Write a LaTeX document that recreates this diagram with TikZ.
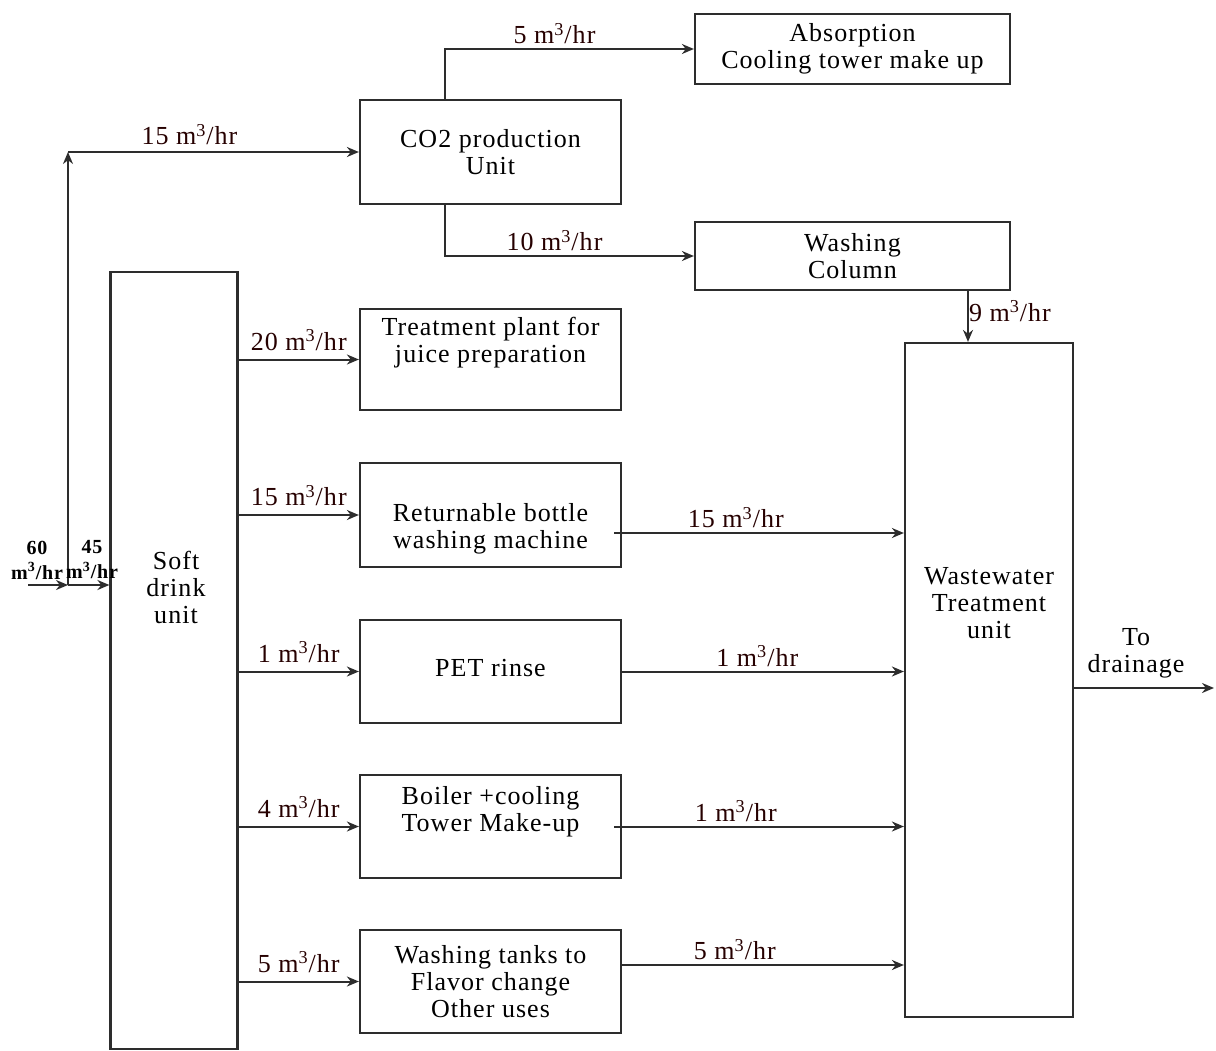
\documentclass[tikz,border=0pt]{standalone}
\usepackage{fontspec}
\setmainfont[LetterSpace=4]{Liberation Serif}
\usetikzlibrary{arrows.meta}
\definecolor{flowgray}{RGB}{45,45,45}
\newcommand{\mrate}[1]{#1 m\textsuperscript{3}/hr}
\tikzset{
  flow box/.style={draw=flowgray,line width=1.1pt,inner sep=0pt,align=center},
  flow/.style={-{Stealth[length=6pt,width=5pt]},line width=1pt,draw=flowgray},
  flow note/.style={font=\fontsize{13}{14}\selectfont,text=black!85!red,inner sep=2pt},
  small note/.style={font=\fontsize{10}{12.5}\selectfont\bfseries,align=center,inner sep=1pt}
}

\begin{document}
\begin{tikzpicture}[x=0.5pt,y=-0.5pt,font=\fontsize{13}{13.5}\selectfont]
  \useasboundingbox (0,0) rectangle (1216,1050);

  % boxes
  \node[flow box,minimum width=63.5pt,minimum height=388.5pt] (soft) at (174,660.5) {};
  \node[align=center] (softtext) at (176,587) {Soft\\drink\\unit};
  \node[flow box,minimum width=130.5pt,minimum height=52pt] (co2) at (490.5,152) {CO2 production\\Unit};
  \node[flow box,minimum width=157.5pt,minimum height=35pt] (absorb) at (852.5,49) {Absorption\\Cooling tower make up};
  \node[flow box,minimum width=157.5pt,minimum height=34pt] (washcol) at (852.5,256) {Washing\\Column};
  \node[flow box,minimum width=84pt,minimum height=337pt] (wwt) at (989,680) {};
  \node[align=center] (wwttext) at (989,603) {Wastewater\\Treatment\\unit};
  \node[flow box,minimum width=130.5pt,minimum height=50.5pt] (treat) at (490.5,359.5) {Treatment plant for\\juice preparation\\[6pt]};
  \node[flow box,minimum width=130.5pt,minimum height=52pt] (bottle) at (490.5,515) {\\[9pt]Returnable bottle\\washing machine};
  \node[flow box,minimum width=130.5pt,minimum height=51.5pt] (pet) at (490.5,671.5) {PET rinse\\[-10pt]};
  \node[flow box,minimum width=130.5pt,minimum height=51.5pt] (boiler) at (490.5,826.5) {Boiler +cooling\\Tower Make-up\\[4pt]};
  \node[flow box,minimum width=130.5pt,minimum height=51.5pt] (tanks) at (490.5,981.5) {Washing tanks to\\Flavor change\\Other uses};

  % feed water
  \coordinate (feed) at (28,585);
  \coordinate (split) at (68,585);
  \coordinate (riser) at (68,152);
  \coordinate (drain) at (1214,688);
  \draw[flow] (feed) -- (split);
  \draw[flow] (split) -- (soft.west |- split);
  \draw[flow] (split) -- (riser);
  \draw[flow] (riser) -- (co2.west) node[flow note,midway,above=1pt,xshift=-12pt] {\mrate{15}};
  \node[small note] (in60) at (37,560) {60\\m\textsuperscript{3}/hr};
  \node[small note] (in45) at (92,560) {45\\m\textsuperscript{3}/hr};

  % CO2 unit
  \draw[flow] ([xshift=-22.75pt]co2.north) |- (absorb.west)
    node[flow note,pos=0.72,above] {\mrate{5}};
  \draw[flow] ([xshift=-22.75pt]co2.south) |- (washcol.west)
    node[flow note,pos=0.72,above] {\mrate{10}};
  \draw[flow] ([xshift=57.75pt]washcol.south) coordinate (w9) -- (w9 |- wwt.north)
    node[flow note,pos=0.4,right=1pt,xshift=-3pt] {\mrate{9}};

  % soft drink unit to users
  \draw[flow] (soft.east |- treat.west) -- (treat.west) node[flow note,midway,above=2pt] {\mrate{20}};
  \draw[flow] (soft.east |- bottle.west) -- (bottle.west) node[flow note,midway,above=2pt] {\mrate{15}};
  \draw[flow] (soft.east |- pet.west) -- (pet.west) node[flow note,midway,above=2pt] {\mrate{1}};
  \draw[flow] (soft.east |- boiler.west) -- (boiler.west) node[flow note,midway,above=2pt] {\mrate{4}};
  \draw[flow] (soft.east |- tanks.west) -- (tanks.west) node[flow note,midway,above=2pt] {\mrate{5}};

  % users to wastewater treatment
  \draw[flow] ([xshift=-4pt,yshift=-9pt]bottle.east) -- ([yshift=-9pt]bottle.east -| wwt.west)
    node[flow note,pos=0.42,above] {\mrate{15}};
  \draw[flow] (pet.east) -- (pet.east -| wwt.west) node[flow note,pos=0.48,above] {\mrate{1}};
  \draw[flow] ([xshift=-4pt]boiler.east) -- (boiler.east -| wwt.west)
    node[flow note,pos=0.42,above] {\mrate{1}};
  \draw[flow] ([yshift=8.25pt]tanks.east) -- ([yshift=8.25pt]tanks.east -| wwt.west)
    node[flow note,pos=0.4,above] {\mrate{5}};

  % outlet
  \draw[flow] (wwt.east |- drain) -- (drain)
    node[midway,above=1pt,align=center,xshift=-4pt] {To\\drainage};
\end{tikzpicture}
\end{document}
